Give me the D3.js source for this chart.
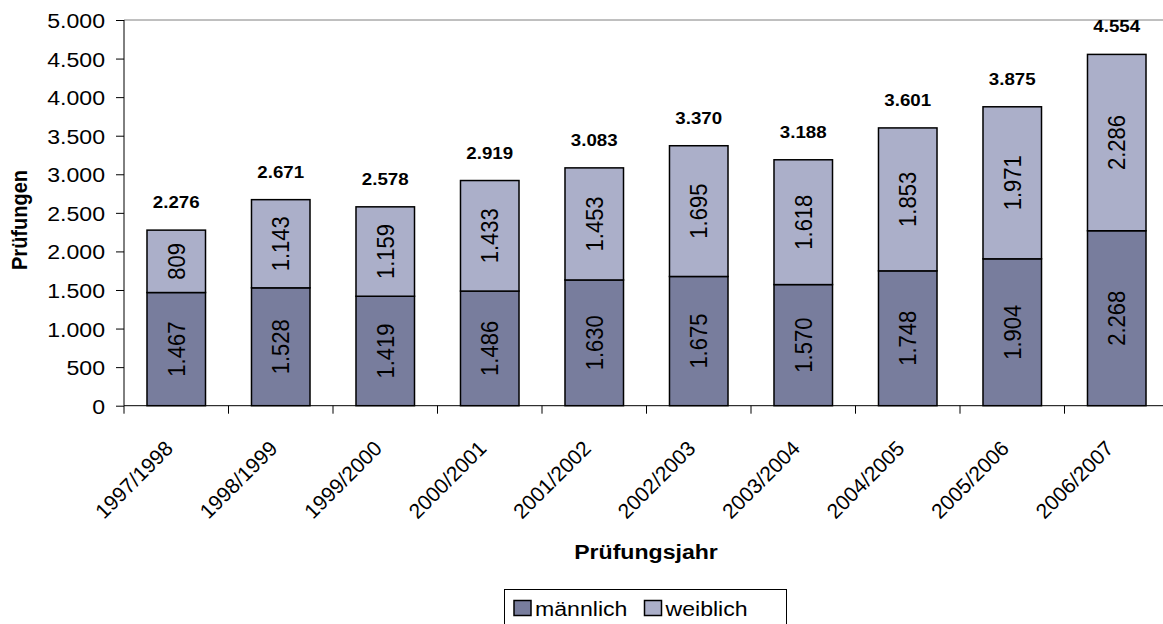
<!DOCTYPE html>
<html>
<head>
<meta charset="utf-8">
<script src="https://cdn.jsdelivr.net/npm/d3@7"></script>
<style>
  body { margin: 0; background: #fff; }
  svg { font-family: Arial, "Liberation Sans", sans-serif; }
</style>
</head>
<body>
<svg width="1163" height="624"></svg>
<script>
const years = ['1997/1998', '1998/1999', '1999/2000', '2000/2001', '2001/2002',
               '2002/2003', '2003/2004', '2004/2005', '2005/2006', '2006/2007'];
const maennlich = [1467, 1528, 1419, 1486, 1630, 1675, 1570, 1748, 1904, 2268];
const weiblich = [809, 1143, 1159, 1433, 1453, 1695, 1618, 1853, 1971, 2286];
const yTicks = [0, 500, 1000, 1500, 2000, 2500, 3000, 3500, 4000, 4500, 5000];
const seriesNames = ['männlich', 'weiblich'];
const colors = ['#787d9d', '#abafc9'];

// the original picture is a bit wider than tall, text looks stretched
const S = 1.1;

const svg = d3.select('svg');
const fmt = v => d3.format(',')(v).replace(/,/g, '.');

const margin = { top: 20, left: 124 };
const plotW = 1045, plotH = 385.7;

const x = d3.scaleBand().domain(years).range([0, plotW]).paddingInner(0.44).paddingOuter(0.22);
const xTick = d3.scaleBand().domain(years).range([0, plotW]);
const y = d3.scaleLinear().domain([0, 5000]).range([plotH, 0]);

const g = svg.append('g').attr('transform', `translate(${margin.left},${margin.top})`);

// top border of plot area
g.append('line')
    .attr('x1', 0).attr('x2', plotW).attr('y1', 0).attr('y2', 0)
    .attr('stroke', '#808080').attr('stroke-width', 1);

const data = years.map((yr, i) => ({ yr, m: maennlich[i], w: weiblich[i] }));
const stack = d3.stack().keys(['m', 'w'])(data);

stack.forEach((layer, li) => {
    g.append('g').selectAll('rect').data(layer).enter().append('rect')
        .attr('x', d => x(d.data.yr))
        .attr('y', d => y(d[1]))
        .attr('width', x.bandwidth())
        .attr('height', d => y(d[0]) - y(d[1]))
        .attr('fill', colors[li])
        .attr('stroke', '#000')
        .attr('stroke-width', 1.5);

    g.append('g').selectAll('text').data(layer).enter().append('text')
        .attr('transform', d => `translate(${x(d.data.yr) + x.bandwidth() / 2 + 8.5},${(y(d[0]) + y(d[1])) / 2}) rotate(-90) scale(1,${S})`)
        .attr('text-anchor', 'middle')
        .attr('font-size', 22)
        .attr('fill', '#000')
        .text(d => fmt(d[1] - d[0]));
});

// totals
g.append('g').selectAll('text').data(data).enter().append('text')
    .attr('transform', d => `translate(${x(d.yr) + x.bandwidth() / 2},${y(d.m + d.w) - 22}) scale(${S},1)`)
    .attr('text-anchor', 'middle')
    .attr('font-size', 17)
    .attr('font-weight', 'bold')
    .text(d => fmt(d.m + d.w));

// y axis
const yAxis = g.append('g')
    .call(d3.axisLeft(y).tickValues(yTicks).tickFormat(fmt).tickSize(8).tickPadding(11));
yAxis.select('.domain').attr('d', `M0,0V${plotH}`).attr('stroke', '#000');
yAxis.selectAll('.tick line').attr('stroke', '#000');
yAxis.selectAll('text')
    .attr('x', null)
    .attr('transform', `translate(-19,0) scale(${S},1)`)
    .attr('font-size', 21).attr('fill', '#000')
    .attr('font-family', 'Arial, "Liberation Sans", sans-serif')
    .attr('dy', '0.36em');

// x axis
const xAxis = g.append('g')
    .attr('transform', `translate(0,${plotH})`)
    .call(d3.axisBottom(xTick).tickSize(0).tickFormat(''));
xAxis.select('.domain').attr('d', `M0,0H${plotW}`).attr('stroke', '#000');
xAxis.selectAll('.tick').remove();
xAxis.selectAll('line.sep').data(d3.range(years.length + 1)).enter().append('line')
    .attr('class', 'sep')
    .attr('x1', i => i * xTick.bandwidth()).attr('x2', i => i * xTick.bandwidth())
    .attr('y1', 0).attr('y2', 8).attr('stroke', '#000');
xAxis.selectAll('text.lbl').data(years).enter().append('text')
    .attr('class', 'lbl')
    .attr('transform', d => `translate(${xTick(d) + xTick.bandwidth() / 2 - 2},44) rotate(-45)`)
    .attr('text-anchor', 'end')
    .attr('font-size', 21)
    .attr('fill', '#000')
    .text(d => d);

// axis titles
svg.append('text')
    .attr('transform', `translate(27,220) rotate(-90) scale(1,${S})`)
    .attr('text-anchor', 'middle')
    .attr('font-size', 20)
    .attr('font-weight', 'bold')
    .text('Prüfungen');

svg.append('text')
    .attr('transform', `translate(646,559) scale(${S},1)`)
    .attr('text-anchor', 'middle')
    .attr('font-size', 21)
    .attr('font-weight', 'bold')
    .text('Prüfungsjahr');

// legend
const lg = svg.append('g').attr('transform', 'translate(504.5,589.5)');
lg.append('rect').attr('width', 282).attr('height', 40)
    .attr('fill', '#fff').attr('stroke', '#000').attr('stroke-width', 1);
const items = lg.selectAll('g.item').data(seriesNames).enter().append('g')
    .attr('transform', (d, i) => `translate(${9.5 + i * 130.5},11)`);
items.append('rect').attr('width', 17).attr('height', 15)
    .attr('fill', (d, i) => colors[i]).attr('stroke', '#000').attr('stroke-width', 1.5);
items.append('text')
    .attr('transform', `translate(21,15.5) scale(${S},1)`)
    .attr('font-size', 21).text(d => d);
</script>
</body>
</html>
